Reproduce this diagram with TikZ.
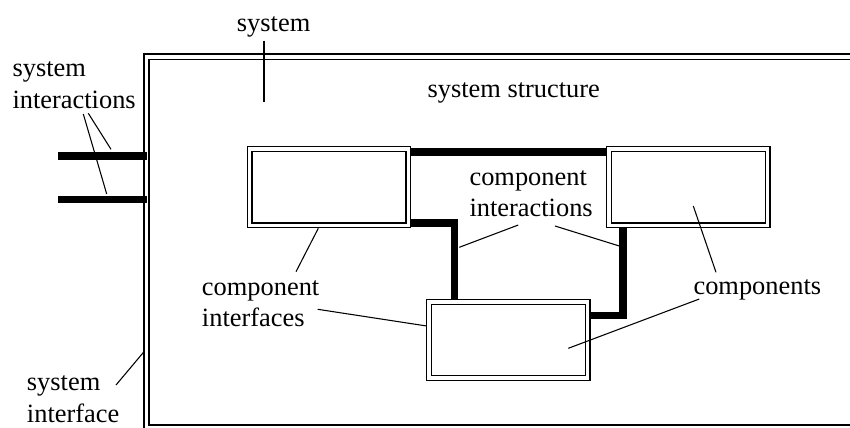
\documentclass[tikz,border=0pt]{standalone}
\usepackage{fontspec}
\setmainfont{Liberation Serif}
\usetikzlibrary{backgrounds}
\begin{document}
\begin{tikzpicture}[x=0.75pt,y=-0.75pt,
  comp/.style={draw, double, double distance=2.6pt, line width=0.9pt,
    minimum width=118.9pt, minimum height=57.2pt, inner sep=0pt},
  sysbox/.style={draw, double, double distance=2.9pt, line width=0.9pt,
    minimum width=565.1pt, minimum height=278.2pt, inner sep=0pt},
  wire/.style={line width=5.7pt, line join=miter, line cap=butt},
  leader/.style={line width=0.8pt},
  lbl/.style={inner sep=0pt, anchor=base west,
    font=\fontsize{19.8pt}{23.8pt}\selectfont}]

\useasboundingbox (0,0) rectangle (850,428);
\clip (0,0) rectangle (850,428);

% the system boundary (runs off to the right and bottom)
\node[sysbox] (sys) at (523.25,242.05) {};

% components
\node[comp] (A) at (329,187.2) {};
\node[comp] (B) at (688.3,187.2) {};
\node[comp] (C) at (508.4,340) {};

% component interactions, drawn behind the boxes
\begin{pgfonlayer}{background}
  \draw[wire] (A.east |- 0,152) -- (B.west |- 0,152);
  \draw[wire] (A.east |- 0,223) -| (C.north -| 454.5,0);
  \draw[wire] (B.south -| 623,0) |- (C.east |- 0,315.3);
\end{pgfonlayer}

% system interactions
\coordinate (sysedge) at ([xshift=0.9pt]sys.west);
\coordinate (si1) at (58.3,156);
\coordinate (si2) at (58.3,199.3);
\draw[wire] (si1) -- (si1 -| sysedge);
\draw[wire] (si2) -- (si2 -| sysedge);

% labels
\node[lbl] (tsys) at (236.7,31.7) {system};
\node[lbl] (tstruct) at (427.3,97.3) {system structure};
\node[lbl] (tsi) at (12.3,76.7)
  {\begin{tabular}[t]{@{}l@{}}system\\interactions\end{tabular}};
\node[lbl] (tsif) at (26.7,390.5)
  {\begin{tabular}[t]{@{}l@{}}system\\interface\end{tabular}};
\node[lbl] (tcif) at (201.7,295)
  {\begin{tabular}[t]{@{}l@{}}component\\interfaces\end{tabular}};
\node[lbl] (tcia) at (469.3,185)
  {\begin{tabular}[t]{@{}l@{}}component\\interactions\end{tabular}};
\node[lbl] (tcomp) at (693.3,294) {components};

% leader line end points
\coordinate (l1a) at (264,40.7);    \coordinate (l1b) at (264,101.7);
\coordinate (l2a) at (83.3,114);    \coordinate (l2b) at (106.7,194);
\coordinate (l3a) at (88.3,113.3);  \coordinate (l3b) at (111,149.3);
\coordinate (l4a) at (116,385);     \coordinate (l4b) at (144,351.7);
\coordinate (l5a) at (296,271.7);   \coordinate (l5b) at (318.3,228.3);
\coordinate (l6a) at (317.7,309.3); \coordinate (l6b) at (426.7,326);
\coordinate (l7a) at (518.3,225);   \coordinate (l7b) at (459.3,247.3);
\coordinate (l8a) at (555,226);     \coordinate (l8b) at (619.3,246);
\coordinate (l9a) at (716,272.3);   \coordinate (l9b) at (693.3,206);
\coordinate (l10a) at (699.3,299);  \coordinate (l10b) at (568.3,348.3);

% leader lines
\draw[leader] (l1a) -- (l1b);
\draw[leader] (l2a) -- (l2b);
\draw[leader] (l3a) -- (l3b);
\draw[leader] (l4a) -- (l4b);
\draw[leader] (l5a) -- (l5b);
\draw[leader] (l6a) -- (l6b);
\draw[leader] (l7a) -- (l7b);
\draw[leader] (l8a) -- (l8b);
\draw[leader] (l9a) -- (l9b);
\draw[leader] (l10a) -- (l10b);
\end{tikzpicture}
\end{document}
